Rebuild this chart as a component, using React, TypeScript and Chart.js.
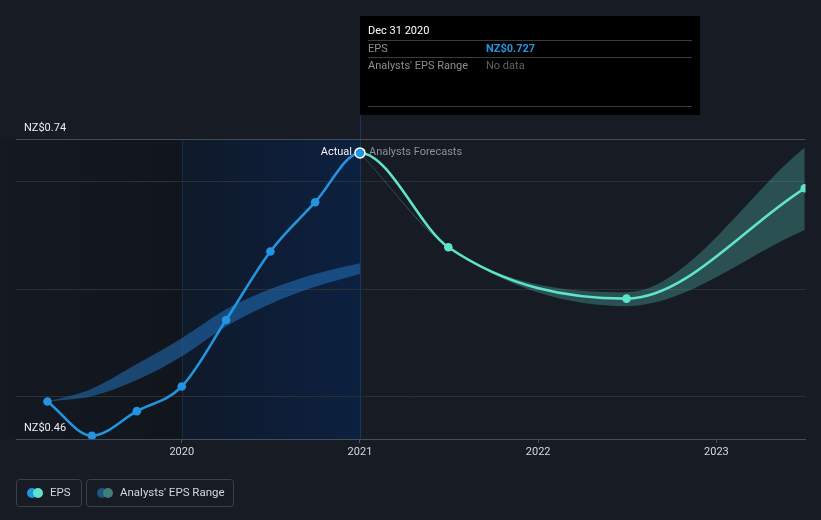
import React, { useEffect, useRef } from 'react';
import { Chart, registerables } from 'chart.js';

Chart.register(...registerables);

// ---------- data ----------
const ACTUAL_DATES = ['2019-03-31', '2019-06-30', '2019-09-30', '2019-12-31', '2020-03-31', '2020-06-30', '2020-09-30', '2020-12-31'];
const ACTUAL_EPS = [0.495, 0.463, 0.486, 0.509, 0.571, 0.635, 0.681, 0.727];
const FORECAST_DATES = ['2021-06-30', '2022-06-30', '2023-06-30'];
const FORECAST_EPS = [0.639, 0.591, 0.694];

const PAST_RANGE_LOW = [0.495, 0.500, 0.515, 0.537, 0.565, 0.586, 0.602, 0.614];
const PAST_RANGE_HIGH = [0.495, 0.507, 0.530, 0.554, 0.581, 0.600, 0.614, 0.624];

const FC_RANGE_DATES = ['2020-12-31', '2021-06-30', '2022-06-30', '2023-06-30'];
const FC_RANGE_LOW = [0.727, 0.639, 0.584, 0.655];
const FC_RANGE_HIGH = [0.727, 0.639, 0.597, 0.732];

const X_TICKS = [2020, 2021, 2022, 2023];
const X_MIN = 2019.07;
const X_MAX = 2023.5;
const Y_MIN = 0.46;
const Y_MAX = 0.74;
const Y_GRID = [0.5, 0.6, 0.7];
const CURRENCY = 'NZ$';
const TOOLTIP_DATE = 'Dec 31 2020';
const LEGEND_LABELS = ['EPS', "Analysts' EPS Range"];

// ---------- style ----------
const BG = '#161b24';
const BLUE = '#2394df';
const TEAL = '#5fe3cb';
const PAST_BAND = 'rgba(36,120,200,0.5)';
const FC_BAND = 'rgba(95,227,203,0.27)';
const FONT = 'Roboto';

function toYear(d: string): number {
  const [y, m, dd] = d.split('-').map(Number);
  const start = Date.UTC(y, 0, 1);
  const end = Date.UTC(y + 1, 0, 1);
  return y + (Date.UTC(y, m - 1, dd) - start + 86400000) / (end - start);
}

const EPS_DATES = [...ACTUAL_DATES, ...FORECAST_DATES];
const EPS_VALUES = [...ACTUAL_EPS, ...FORECAST_EPS];
const LAST_ACTUAL = ACTUAL_EPS.length - 1;

const pts = (dates: string[], vals: number[]) => dates.map((d, i) => ({ x: toYear(d), y: vals[i] }));

const decorPlugin = {
  id: 'decor',
  beforeDraw(chart: any) {
    const { ctx, width, height, chartArea, scales } = chart;
    const x = scales.x;
    const xPastEnd = x.getPixelForValue(toYear(ACTUAL_DATES[3]));
    const xNow = x.getPixelForValue(toYear(ACTUAL_DATES[LAST_ACTUAL]));
    ctx.save();
    ctx.fillStyle = BG;
    ctx.fillRect(0, 0, width, height);
    // dark past region
    let g = ctx.createLinearGradient(0, 0, xPastEnd, 0);
    g.addColorStop(0, 'rgba(8,10,14,0.12)');
    g.addColorStop(1, 'rgba(8,10,14,0.38)');
    ctx.fillStyle = g;
    ctx.fillRect(0, chartArea.top, xPastEnd, chartArea.bottom - chartArea.top);
    // blue highlight region
    g = ctx.createLinearGradient(xPastEnd, 0, xNow, 0);
    g.addColorStop(0, 'rgb(15,26,42)');
    g.addColorStop(1, 'rgb(12,32,64)');
    ctx.fillStyle = g;
    ctx.fillRect(xPastEnd, chartArea.top, xNow - xPastEnd, chartArea.bottom - chartArea.top);
    ctx.strokeStyle = 'rgba(35,60,100,0.45)';
    ctx.lineWidth = 1;
    ctx.beginPath();
    ctx.moveTo(Math.round(xPastEnd) + 0.5, chartArea.top);
    ctx.lineTo(Math.round(xPastEnd) + 0.5, chartArea.bottom);
    ctx.stroke();
    ctx.strokeStyle = 'rgba(30,62,115,0.75)';
    ctx.beginPath();
    ctx.moveTo(Math.round(xNow) + 0.5, 16);
    ctx.lineTo(Math.round(xNow) + 0.5, chartArea.bottom);
    ctx.stroke();
    ctx.restore();
  },
  afterDraw(chart: any) {
    const { ctx, scales } = chart;
    const x = scales.x;
    const y = scales.y;
    const xNow = x.getPixelForValue(toYear(ACTUAL_DATES[LAST_ACTUAL]));
    const yNow = y.getPixelForValue(ACTUAL_EPS[LAST_ACTUAL]);
    ctx.save();
    ctx.font = `11px ${FONT}`;
    ctx.textBaseline = 'middle';
    ctx.textAlign = 'right';
    ctx.fillStyle = '#f2f3f5';
    ctx.fillText('Actual', xNow - 8, yNow - 1);
    ctx.textAlign = 'left';
    ctx.fillStyle = '#8c9199';
    ctx.fillText('Analysts Forecasts', xNow + 9, yNow - 1);

    // tooltip box
    const bx = Math.round(xNow);
    ctx.fillStyle = '#000';
    ctx.fillRect(bx, 16, 340, 99);
    ctx.strokeStyle = '#3a3c40';
    ctx.lineWidth = 1;
    [40.5, 57.5, 106.5].forEach((ly) => {
      ctx.beginPath();
      ctx.moveTo(bx + 8, ly);
      ctx.lineTo(bx + 332, ly);
      ctx.stroke();
    });
    ctx.fillStyle = '#ffffff';
    ctx.font = `11px ${FONT}`;
    ctx.fillText(TOOLTIP_DATE, bx + 8, 31.5);
    ctx.fillStyle = '#8a8f97';
    ctx.fillText('EPS', bx + 8, 49);
    ctx.fillText("Analysts' EPS Range", bx + 8, 66);
    ctx.fillStyle = BLUE;
    ctx.font = `bold 11px ${FONT}`;
    ctx.fillText(CURRENCY + ACTUAL_EPS[LAST_ACTUAL].toFixed(3), bx + 126, 49);
    ctx.fillStyle = '#5d6168';
    ctx.font = `11px ${FONT}`;
    ctx.fillText('No data', bx + 126, 66);

    // legend
    const boxes = [
      { x: 16.5, w: 65, c1: BLUE, c2: TEAL, label: LEGEND_LABELS[0] },
      { x: 86.5, w: 147, c1: '#1f5580', c2: '#3e7f78', label: LEGEND_LABELS[1] },
    ];
    ctx.font = `11.5px ${FONT}`;
    boxes.forEach((b) => {
      ctx.strokeStyle = '#3b4049';
      ctx.lineWidth = 1;
      ctx.beginPath();
      (ctx as any).roundRect(b.x, 479.5, b.w, 27, 3);
      ctx.stroke();
      ctx.fillStyle = b.c1;
      ctx.beginPath();
      ctx.arc(b.x + 15.5, 493, 5, 0, Math.PI * 2);
      ctx.fill();
      ctx.fillStyle = b.c2;
      ctx.beginPath();
      ctx.arc(b.x + 21.5, 493, 5, 0, Math.PI * 2);
      ctx.fill();
      ctx.fillStyle = '#d5d8dc';
      ctx.textAlign = 'left';
      ctx.fillText(b.label, b.x + 33.5, 493.5);
    });
    ctx.restore();
  },
};

export default function App() {
  const ref = useRef<HTMLCanvasElement | null>(null);
  useEffect(() => {
    document.body.style.margin = '0';
    document.body.style.background = BG;
    const canvas = ref.current;
    if (!canvas) return;
    const chart = new Chart(canvas, {
      type: 'line',
      data: {
        datasets: [
          {
            label: 'EPS',
            data: pts(EPS_DATES, EPS_VALUES),
            borderWidth: 2.6,
            borderColor: BLUE,
            segment: {
              borderColor: (c: any) => (c.p0DataIndex >= LAST_ACTUAL ? TEAL : BLUE),
            },
            cubicInterpolationMode: 'monotone',
            fill: false,
            pointRadius: (c: any) => (c.dataIndex === LAST_ACTUAL ? 5 : 4.3),
            pointBackgroundColor: (c: any) => (c.dataIndex <= LAST_ACTUAL ? BLUE : TEAL),
            pointBorderColor: (c: any) => (c.dataIndex === LAST_ACTUAL ? '#ffffff' : c.dataIndex < LAST_ACTUAL ? BLUE : TEAL),
            pointBorderWidth: (c: any) => (c.dataIndex === LAST_ACTUAL ? 1.5 : 0),
          } as any,
          {
            label: 'pastHigh',
            data: pts(ACTUAL_DATES, PAST_RANGE_HIGH),
            borderWidth: 0,
            pointRadius: 0,
            cubicInterpolationMode: 'monotone',
            fill: false,
          },
          {
            label: 'pastLow',
            data: pts(ACTUAL_DATES, PAST_RANGE_LOW),
            borderWidth: 0,
            pointRadius: 0,
            cubicInterpolationMode: 'monotone',
            fill: '-1',
            backgroundColor: PAST_BAND,
          },
          {
            label: 'fcHigh',
            data: pts(FC_RANGE_DATES, FC_RANGE_HIGH),
            borderWidth: 0,
            pointRadius: 0,
            cubicInterpolationMode: 'monotone',
            fill: false,
          },
          {
            label: 'fcLow',
            data: pts(FC_RANGE_DATES, FC_RANGE_LOW),
            borderWidth: 1,
            borderColor: 'rgba(95,227,203,0.2)',
            segment: {
              borderColor: (c: any) => (c.p0DataIndex === 0 ? 'rgba(95,227,203,0.22)' : 'rgba(0,0,0,0)'),
            },
            pointRadius: 0,
            cubicInterpolationMode: 'monotone',
            fill: '-1',
            backgroundColor: FC_BAND,
          } as any,
        ],
      },
      options: {
        responsive: false,
        animation: false,
        events: [],
        layout: { padding: { left: 16, right: 15.5, top: 139, bottom: 57.8 } },
        plugins: { legend: { display: false }, tooltip: { enabled: false } },
        scales: {
          x: {
            type: 'linear',
            min: X_MIN,
            max: X_MAX,
            afterBuildTicks: (s: any) => {
              s.ticks = X_TICKS.map((v) => ({ value: v }));
            },
            ticks: {
              color: '#d6d9de',
              font: { family: FONT, size: 11 },
              padding: 3,
              maxRotation: 0,
              autoSkip: false,
              callback: (v: any) => String(v),
            },
            grid: { drawOnChartArea: false, drawTicks: true, tickLength: 4, color: '#474c55' },
            border: { display: true, color: '#474c55' },
          },
          y: {
            type: 'linear',
            min: Y_MIN,
            max: Y_MAX,
            afterBuildTicks: (s: any) => {
              s.ticks = [Y_MIN, ...Y_GRID, Y_MAX].map((v) => ({ value: v }));
            },
            afterFit: (s: any) => {
              s.width = 0;
            },
            ticks: {
              mirror: true,
              padding: 8,
              labelOffset: -11,
              color: '#eceef0',
              font: { family: FONT, size: 11 },
              callback: (v: any) => (v === Y_MIN || v === Y_MAX ? CURRENCY + Number(v).toFixed(2) : ''),
            },
            grid: {
              drawTicks: false,
              color: (c: any) =>
                c.tick && (c.tick.value === Y_MAX || c.tick.value === Y_MIN) ? '#474c55' : '#2a2f38',
            },
            border: { display: false },
          },
        },
      },
      plugins: [decorPlugin],
    } as any);
    return () => chart.destroy();
  }, []);
  return (
    <div style={{ width: 821, height: 520, background: BG }}>
      <canvas ref={ref} width={821} height={520} style={{ display: 'block' }} />
    </div>
  );
}
